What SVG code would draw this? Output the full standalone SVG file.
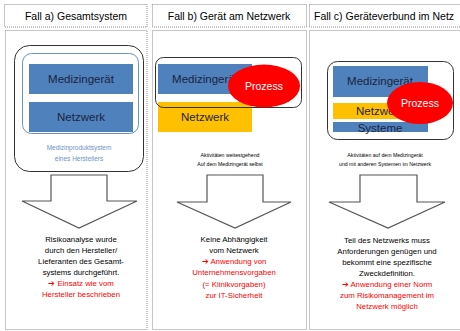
<svg xmlns="http://www.w3.org/2000/svg" width="460" height="331" viewBox="0 0 460 331">
<style>
.frame{fill:#fff;stroke:#8c8c8c;stroke-width:1;stroke-dasharray:1,1}
.hd{font-family:"Liberation Sans",Arial,sans-serif;font-size:10.5px;fill:#000;text-anchor:middle}
.box{font-family:"Liberation Sans",Arial,sans-serif;font-size:11.5px;fill:#1c2340;text-anchor:middle}
.pz{font-family:"Liberation Sans",Arial,sans-serif;font-size:10.5px;fill:#fff;text-anchor:middle}
.tx{font-family:"Liberation Sans",Arial,sans-serif;font-size:7.8px;fill:#000;text-anchor:middle}
.red{fill:#ff0000}
.sm{font-family:"Liberation Sans",Arial,sans-serif;font-size:5.2px;fill:#000;text-anchor:middle}
.lb{font-family:"Liberation Sans",Arial,sans-serif;font-size:6.5px;fill:#6a93c9;text-anchor:middle}
.blue{fill:#4f81bd}
.yel{fill:#ffc000}
.ell{fill:#ff0000}
.rr{fill:none;stroke:#333;stroke-width:1}
.arrow{fill:#fff;stroke:#555;stroke-width:1.2;stroke-linejoin:miter}
</style>
<rect width="460" height="331" fill="#fff"/>
<g id="col-a">
<rect class="frame" x="4.5" y="4.5" width="142.5" height="22.5"/>
<text class="hd" x="76" y="19.5">Fall a) Gesamtsystem</text>
<rect class="frame" x="5.5" y="30.5" width="141.5" height="299"/>
<rect class="rr" x="14.5" y="45.5" width="129" height="126" rx="15"/>
<rect x="22.5" y="53.5" width="116" height="80" rx="9" fill="none" stroke="#6a93c9" stroke-width="1"/>
<rect class="blue" x="29" y="64" width="104" height="30"/>
<text class="box" x="81" y="83">Medizingerät</text>
<rect class="blue" x="29" y="102" width="104" height="30"/>
<text class="box" x="81" y="121">Netzwerk</text>
<text class="lb" x="79" y="150">Medizinproduktsystem</text>
<text class="lb" x="79" y="161">eines Herstellers</text>
<polygon class="arrow" points="51,175 107,175 107,201 137,201 79,228 22,201 51,201"/>
<text class="tx" x="81" y="242">Risikoanalyse wurde</text>
<text class="tx" x="81" y="253">durch den Hersteller/</text>
<text class="tx" x="81" y="264">Lieferanten des Gesamt-</text>
<text class="tx" x="81" y="275">systems durchgeführt.</text>
<text class="tx red" x="81" y="286">➔ Einsatz wie vom</text>
<text class="tx red" x="81" y="297">Hersteller beschrieben</text>
</g>
<g id="col-b">
<rect class="frame" x="152.5" y="4.5" width="154" height="22.5"/>
<text class="hd" x="229" y="19.5">Fall b) Gerät am Netzwerk</text>
<rect class="frame" x="152.5" y="30.5" width="154" height="299"/>
<rect class="blue" x="158" y="64" width="94" height="30"/>
<text class="box" x="205" y="83">Medizingerät</text>
<rect class="yel" x="158" y="102" width="94" height="30"/>
<text class="box" x="205" y="121">Netzwerk</text>
<rect class="rr" x="155.5" y="57.5" width="146" height="50" rx="8"/>
<ellipse class="ell" cx="264" cy="86" rx="36" ry="21.5"/>
<text class="pz" x="264" y="90">Prozess</text>
<text class="sm" x="230" y="157">Aktivitäten weitestgehend</text>
<text class="sm" x="230" y="166">Auf dem Medizingerät selbst</text>
<polygon class="arrow" points="207,175 263,175 263,202 291,202 235,228 177,202 207,202"/>
<text class="tx" x="234" y="242">Keine Abhängigkeit</text>
<text class="tx" x="234" y="253">vom Netzwerk</text>
<text class="tx red" x="234" y="264">➔ Anwendung von</text>
<text class="tx red" x="234" y="275">Unternehmensvorgaben</text>
<text class="tx red" x="234" y="287">(= Klinikvorgaben)</text>
<text class="tx red" x="234" y="298">zur IT-Sicherheit</text>
</g>
<g id="col-c">
<rect class="frame" x="309.5" y="4.5" width="152" height="22.5"/>
<text class="hd" x="314" y="19.5" style="text-anchor:start">Fall c) Geräteverbund im Netz</text>
<rect class="frame" x="309.5" y="30.5" width="152" height="299"/>
<rect class="rr" x="327.5" y="61.5" width="126" height="78" rx="10"/>
<rect class="blue" x="333" y="66" width="95" height="31"/>
<text class="box" x="380" y="85">Medizingerät</text>
<rect class="yel" x="333" y="103" width="95" height="16"/>
<text class="box" x="380" y="115">Netzwerk</text>
<rect class="blue" x="333" y="122" width="95" height="10"/>
<text class="box" x="380" y="132">Systeme</text>
<ellipse class="ell" cx="420" cy="103" rx="33" ry="21"/>
<text class="pz" x="420" y="107">Prozess</text>
<text class="sm" x="385" y="157">Aktivitäten auf dem Medizingerät</text>
<text class="sm" x="385" y="166">und mit anderen Systemen im Netzwerk</text>
<polygon class="arrow" points="360,175 417,175 417,202 445,202 388,228 329,202 360,202"/>
<text class="tx" x="387" y="243">Teil des Netzwerks muss</text>
<text class="tx" x="387" y="254">Anforderungen genügen und</text>
<text class="tx" x="387" y="265">bekommt eine spezifische</text>
<text class="tx" x="387" y="276">Zweckdefinition.</text>
<text class="tx red" x="387" y="287">➔ Anwendung einer Norm</text>
<text class="tx red" x="387" y="298">zum Risikomanagement im</text>
<text class="tx red" x="387" y="309">Netzwerk möglich</text>
</g>
<g id="connectors"></g>
</svg>
